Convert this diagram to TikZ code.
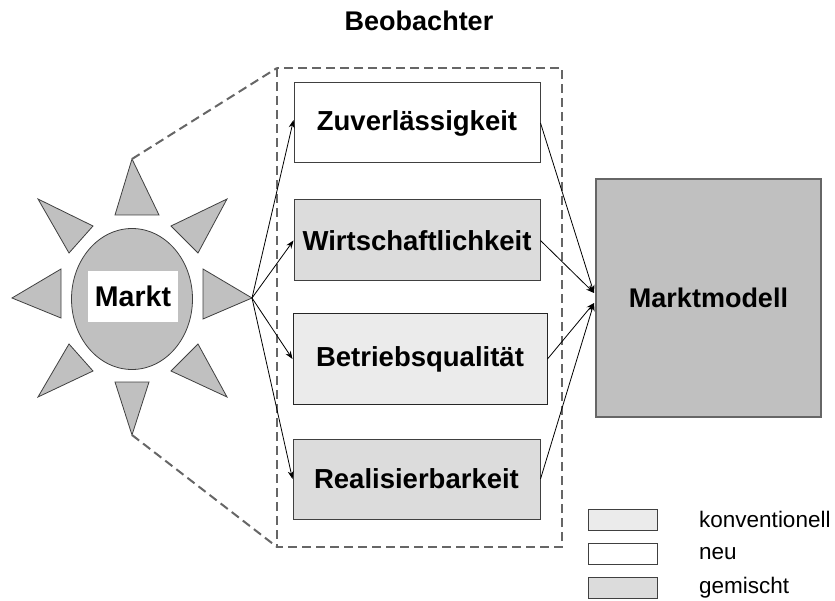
\documentclass[tikz,border=0pt]{standalone}
\usepackage{fontspec}
\setmainfont{Liberation Sans}
\usetikzlibrary{arrows.meta}
\definecolor{konv}{HTML}{EBEBEB}
\definecolor{gemi}{HTML}{DCDCDC}
\definecolor{markt}{HTML}{C0C0C0}
\definecolor{rim}{HTML}{666666}
\definecolor{edge}{HTML}{404040}
\tikzset{
  crit/.style={draw=edge, line width=1pt, minimum width=246pt, minimum height=80pt,
    inner sep=0pt, font=\fontsize{27.5}{32}\selectfont\bfseries},
  ray/.style={fill=markt, draw=edge, line width=0.8pt, line join=miter},
  link/.style={draw=black, line width=0.8pt, -{Stealth[length=8pt,width=6pt]}},
  frame/.style={draw=rim, line width=2.6pt, dash pattern=on 9pt off 5pt},
  legbox/.style={draw=edge, line width=0.8pt, minimum width=69pt, minimum height=21pt, inner sep=0pt},
  legtext/.style={anchor=west, inner sep=0pt, font=\fontsize{22.5}{27}\selectfont},
}
\begin{document}
\begin{tikzpicture}[x=1pt,y=-1pt]
\useasboundingbox (0,0) rectangle (835,601);

% title
\node[font=\fontsize{27}{32}\selectfont\bfseries] (title) at (419,21) {Beobachter};

% dashed observer frame
\draw[frame] (277,68) rectangle (562,547);
\coordinate (fnw) at (277,68);
\coordinate (fsw) at (277,547);

% the sun: rays around the market
\draw[ray] (132,159) -- (159,215) -- (115,215) -- cycle;
\draw[ray] (132,435) -- (149,382) -- (115,382) -- cycle;
\draw[ray] (12,298) -- (61,269) -- (61,318) -- cycle;
\draw[ray] (252,298) -- (203,269) -- (203,319) -- cycle;
\draw[ray] (38,199) -- (93,226) -- (69,253) -- cycle;
\draw[ray] (227,199) -- (171,226) -- (198,253) -- cycle;
\draw[ray] (69,344) -- (93,371) -- (38,397) -- cycle;
\draw[ray] (198,344) -- (171,371) -- (227,397) -- cycle;
\coordinate (raytop) at (132,159);
\coordinate (raybot) at (132,435);
\coordinate (hub) at (252,298);

\draw[fill=markt, draw=edge, line width=0.8pt] (132,299) ellipse [x radius=60.5, y radius=70.5];
\node[fill=white, minimum width=90pt, minimum height=51pt, inner sep=0pt,
      font=\fontsize{28.5}{33}\selectfont\bfseries] (markt) at (133,296.5) {Markt};

% connection of the sun to the observer frame
\draw[frame, line width=2pt] (raytop) -- (fnw);
\draw[frame, line width=2pt] (raybot) -- (fsw);

% criteria
\node[crit, fill=white] (zuv) at (417,123) {Zuverlässigkeit};
\node[crit, fill=gemi, minimum height=81pt] (wir) at (417,240.5) {Wirtschaftlichkeit};
\node[crit, fill=konv, draw=black!85, minimum width=254pt, minimum height=90pt] (bet) at (420,359) {Betriebsqualität};
\node[crit, fill=gemi, minimum width=247pt] (rea) at (416.5,479) {Realisierbarkeit};

% market model
\node[draw=rim, line width=2.6pt, fill=markt, minimum width=225pt, minimum height=238pt,
      inner sep=0pt, font=\fontsize{27}{32}\selectfont\bfseries] (mm) at (708.5,298) {Marktmodell};
\coordinate (mmin1) at (594,293);
\coordinate (mmin2) at (594,303);

% arrows
\draw[link] (hub) -- ([yshift=3pt]zuv.west);
\draw[link] (hub) -- (wir.west);
\draw[link] (hub) -- (bet.west);
\draw[link] (hub) -- (rea.west);
\draw[link] (zuv.east) -- (mmin1);
\draw[link] (wir.east) -- (mmin1);
\draw[link] (bet.east) -- (mmin2);
\draw[link] (rea.east) -- (mmin2);

% legend
\node[legbox, fill=konv] (lk) at (622.5,519.5) {};
\node[legbox, fill=white] (ln) at (622.5,553.5) {};
\node[legbox, fill=gemi] (lg) at (622.5,587.5) {};
\node[legtext] (tk) at (699,519.5) {konventionell};
\node[legtext] (tn) at (699,553.5) {neu};
\node[legtext] (tg) at (699,587.5) {gemischt};
\end{tikzpicture}
\end{document}
